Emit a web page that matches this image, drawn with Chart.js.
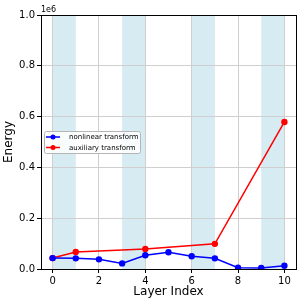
<!DOCTYPE html>
<html>
<head>
<meta charset="utf-8">
<script src="https://cdn.jsdelivr.net/npm/chart.js@4"></script>
<style>
  html, body { margin: 0; padding: 0; background: #fff; }
  #wrap { width: 305px; height: 305px; }
</style>
</head>
<body>
<div id="wrap"><canvas id="energyChart" width="305" height="305"></canvas></div>
<script>
// layer indices and energies
const layers = [0, 1, 2, 3, 4, 5, 6, 7, 8, 9, 10];
const nonlinearEnergy = [43000, 42000, 38000, 22000, 54000, 66000, 50000, 42000, 5000, 4000, 13000];
const auxLayers = [0, 1, 4, 7, 10];
const auxiliaryEnergy = [43000, 67000, 79000, 99000, 579000];
const bandStarts = [0, 3, 6, 9];
const xTicks = [0, 2, 4, 6, 8, 10];
const yTicks = [0, 200000, 400000, 600000, 800000, 1000000];

const font = 'DejaVu Sans';

const toPoints = (xs, ys) => xs.map((x, i) => ({ x: x, y: ys[i] }));

const bandsPlugin = {
    id: 'bands',
    beforeDraw(chart) {
        const { ctx, chartArea, scales } = chart;
        ctx.save();
        ctx.fillStyle = 'rgba(173, 216, 230, 0.5)';
        bandStarts.forEach(b => {
            const x0 = scales.x.getPixelForValue(b);
            const x1 = scales.x.getPixelForValue(b + 1);
            ctx.fillRect(x0, chartArea.top, x1 - x0, chartArea.bottom - chartArea.top);
        });
        ctx.restore();
    }
};

const framePlugin = {
    id: 'frame',
    afterDraw(chart) {
        const { ctx, chartArea } = chart;
        ctx.save();
        ctx.strokeStyle = '#000';
        ctx.lineWidth = 1;
        ctx.strokeRect(Math.round(chartArea.left) + 0.5, Math.round(chartArea.top) + 0.5,
            Math.round(chartArea.right - chartArea.left), Math.round(chartArea.bottom - chartArea.top));

        // offset label
        ctx.fillStyle = '#000';
        ctx.font = '8px "' + font + '"';
        ctx.textAlign = 'left';
        ctx.textBaseline = 'bottom';
        ctx.fillText('1e6', chartArea.left, chartArea.top - 1);

        // legend box
        const lx = chartArea.left + 3, ly = chartArea.top + 116;
        const w = 96, h = 22;
        ctx.fillStyle = 'rgba(255,255,255,0.85)';
        ctx.strokeStyle = '#b5b5b5';
        ctx.lineWidth = 1;
        ctx.beginPath();
        ctx.roundRect(lx + 0.5, ly + 0.5, w, h, 2);
        ctx.fill();
        ctx.stroke();

        const items = [
            { label: 'nonlinear transform', color: 'blue' },
            { label: 'auxiliary transform', color: 'red' }
        ];
        ctx.font = '7px "' + font + '"';
        ctx.textBaseline = 'middle';
        items.forEach((it, i) => {
            const y = ly + 6 + i * 10.5;
            ctx.strokeStyle = it.color;
            ctx.lineWidth = 1.5;
            ctx.beginPath();
            ctx.moveTo(lx + 2, y);
            ctx.lineTo(lx + 16, y);
            ctx.stroke();
            ctx.fillStyle = it.color;
            ctx.beginPath();
            ctx.arc(lx + 9, y, 2.5, 0, Math.PI * 2);
            ctx.fill();
            ctx.fillStyle = '#000';
            ctx.fillText(it.label, lx + 25, y + 0.5);
        });
        ctx.restore();
    }
};

const ctx = document.getElementById('energyChart').getContext('2d');
const energyChart = new Chart(ctx, {
    type: 'line',
    data: {
        datasets: [
            {
                label: 'nonlinear transform',
                data: toPoints(layers, nonlinearEnergy),
                borderColor: 'blue',
                backgroundColor: 'blue',
                borderWidth: 1.5,
                pointRadius: 3.2,
                pointBorderWidth: 0,
                fill: false,
            },
            {
                label: 'auxiliary transform',
                data: toPoints(auxLayers, auxiliaryEnergy),
                borderColor: 'red',
                backgroundColor: 'red',
                borderWidth: 1.5,
                pointRadius: 3.2,
                pointBorderWidth: 0,
                fill: false,
            }
        ]
    },
    options: {
        responsive: false,
        animation: false,
        layout: { padding: { top: 15, right: 9, left: 2, bottom: 6 } },
        scales: {
            x: {
                type: 'linear',
                min: -0.5,
                max: 10.5,
                afterFit: (s) => { s.height = 30; },
                afterBuildTicks: (s) => { s.ticks = xTicks.map(v => ({ value: v })); },
                ticks: {
                    color: '#000',
                    font: { family: font, size: 10 },
                    padding: 2,
                    maxRotation: 0,
                },
                grid: { color: '#cfcfcf', tickLength: 4, tickColor: '#000' },
                border: { display: false },
                title: {
                    display: true,
                    text: 'Layer Index',
                    color: '#000',
                    font: { family: font, size: 12 },
                    padding: { top: 0, bottom: 0 }
                }
            },
            y: {
                min: 0,
                max: 1000000,
                afterFit: (s) => { s.width = 39; },
                afterBuildTicks: (s) => { s.ticks = yTicks.map(v => ({ value: v })); },
                ticks: {
                    color: '#000',
                    font: { family: font, size: 10 },
                    padding: 2,
                    callback: (v) => (v / 1e6).toFixed(1),
                },
                grid: { color: '#cfcfcf', tickLength: 4, tickColor: '#000' },
                border: { display: false },
                title: {
                    display: true,
                    text: 'Energy',
                    color: '#000',
                    font: { family: font, size: 12 },
                    padding: { top: 0, bottom: 0 }
                }
            }
        },
        plugins: {
            legend: { display: false },
            tooltip: { enabled: false },
        }
    },
    plugins: [bandsPlugin, framePlugin]
});
</script>
</body>
</html>
